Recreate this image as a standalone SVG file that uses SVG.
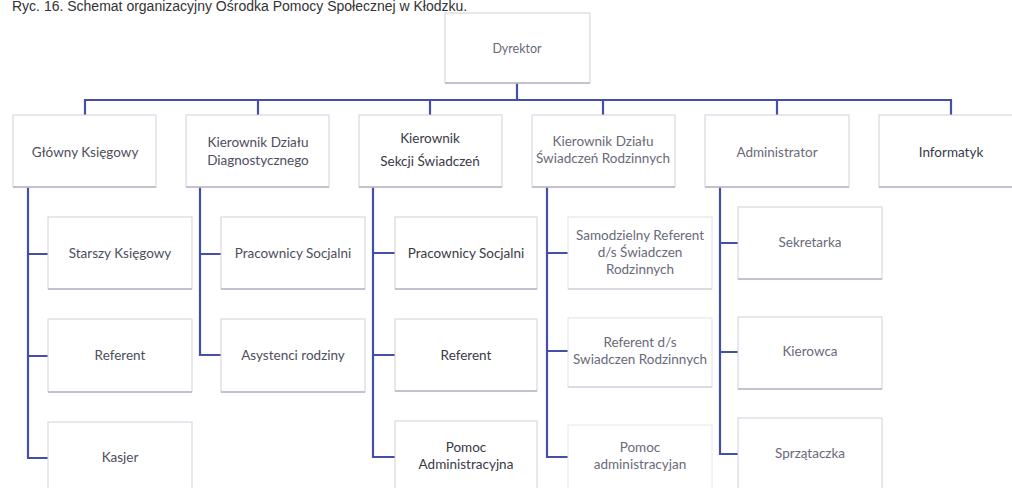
<svg xmlns="http://www.w3.org/2000/svg" width="1012" height="488" viewBox="0 0 1012 488">
<style>
.bx{fill:#fff;stroke:#d3d0dc;stroke-width:1}
.sh{stroke:#b9b5c9;stroke-width:1.5;fill:none}
.ln{stroke:#4450a8;stroke-width:2.2;fill:none}
text{font-family:Lato,"Open Sans","Liberation Sans",sans-serif;font-size:13.5px;fill:#4e4e5c;text-anchor:middle}
.lt{fill:#6a6a78}
.dk{fill:#3a3a46}
.ti{font-family:"Liberation Sans",Arial,sans-serif;font-size:14px;fill:#333;text-anchor:start}
</style>
<rect width="1012" height="488" fill="#fff"/>
<text class="ti" x="12" y="11">Ryc. 16. Schemat organizacyjny Ośrodka Pomocy Społecznej w Kłodzku.</text>
<g id="connectors">
<path class="ln" d="M517 83V100M85 115V100H951V115M258 100V115M430 100V115M603 100V115M777 100V115"/>
<path class="ln" d="M28 187V458H48M28 254H48M28 356H48"/>
<path class="ln" d="M200 187V355H221M200 254H221"/>
<path class="ln" d="M373 187V457H395M373 253H395M373 355H395"/>
<path class="ln" d="M547 187V457H568M547 253H568M547 351H568"/>
<path class="ln" d="M720 187V454H738M720 243H738M720 352H738"/>
</g>
<g id="n-dyrektor"><rect class="bx" x="445" y="13" width="145" height="70"/><path class="sh" d="M445 83H590"/><text x="517" y="53" class="lt" style="font-size:12.5px">Dyrektor</text></g>
<g id="n-glowny"><rect class="bx" x="13" y="115" width="143" height="72"/><path class="sh" d="M13 187H156"/><text x="85" y="157">Główny Księgowy</text></g>
<g id="n-diag"><rect class="bx" x="186" y="115" width="143" height="72"/><path class="sh" d="M186 187H329"/><text x="258" y="147">Kierownik Działu</text><text x="258" y="165">Diagnostycznego</text></g>
<g id="n-sekcja"><rect class="bx" x="359" y="115" width="143" height="72"/><path class="sh" d="M359 187H502"/><text x="430" y="143" class="dk">Kierownik</text><text x="430" y="166" class="dk">Sekcji Świadczeń</text></g>
<g id="n-rodz"><rect class="bx" x="532" y="115" width="143" height="72"/><path class="sh" d="M532 187H675"/><text x="603" y="146" class="lt">Kierownik Działu</text><text x="603" y="163" class="lt">Świadczeń Rodzinnych</text></g>
<g id="n-admin"><rect class="bx" x="705" y="115" width="144" height="72"/><path class="sh" d="M705 187H849"/><text x="777" y="157" class="lt">Administrator</text></g>
<g id="n-info"><rect class="bx" x="879" y="115" width="143" height="72"/><path class="sh" d="M879 187H1012"/><text x="951" y="157" class="dk">Informatyk</text></g>
<g id="n-starszy"><rect class="bx" x="48" y="217" width="144" height="72"/><path class="sh" d="M48 289H192"/><text x="120" y="258">Starszy Księgowy</text></g>
<g id="n-ref1"><rect class="bx" x="48" y="319" width="144" height="73"/><path class="sh" d="M48 392H192"/><text x="120" y="360">Referent</text></g>
<g id="n-kasjer"><rect class="bx" x="48" y="422" width="144" height="72"/><text x="120" y="462">Kasjer</text></g>
<g id="n-prac1"><rect class="bx" x="221" y="217" width="144" height="72"/><path class="sh" d="M221 289H365"/><text x="293" y="258">Pracownicy Socjalni</text></g>
<g id="n-asyst"><rect class="bx" x="221" y="319" width="144" height="73"/><path class="sh" d="M221 392H365"/><text x="293" y="360">Asystenci rodziny</text></g>
<g id="n-prac2"><rect class="bx" x="395" y="217" width="142" height="72"/><path class="sh" d="M395 289H537"/><text x="466" y="258" class="dk">Pracownicy Socjalni</text></g>
<g id="n-ref2"><rect class="bx" x="395" y="319" width="142" height="72"/><path class="sh" d="M395 391H537"/><text x="466" y="360" class="dk">Referent</text></g>
<g id="n-pomoc1"><rect class="bx" x="395" y="421" width="142" height="73"/><text x="466" y="452" class="dk">Pomoc</text><text x="466" y="469" class="dk">Administracyjna</text></g>
<g id="n-samref"><rect class="bx" x="568" y="217" width="144" height="72" style="stroke:#e2e0e8"/><path class="sh" d="M568 289H712" style="stroke:#d6d3df"/><text x="640" y="240" class="lt">Samodzielny Referent</text><text x="640" y="257" class="lt">d/s Świadczen</text><text x="640" y="274" class="lt">Rodzinnych</text></g>
<g id="n-refds"><rect class="bx" x="568" y="318" width="144" height="69" style="stroke:#e2e0e8"/><path class="sh" d="M568 387H712" style="stroke:#d6d3df"/><text x="640" y="347" class="lt">Referent d/s</text><text x="640" y="364" class="lt">Swiadczen Rodzinnych</text></g>
<g id="n-pomoc2"><rect class="bx" x="568" y="425" width="144" height="69" style="stroke:#e8e6ee"/><text x="640" y="452" class="lt">Pomoc</text><text x="640" y="469" class="lt">administracyjan</text></g>
<g id="n-sekr"><rect class="bx" x="738" y="207" width="144" height="72"/><path class="sh" d="M738 279H882"/><text x="810" y="247" class="lt">Sekretarka</text></g>
<g id="n-kier"><rect class="bx" x="738" y="317" width="144" height="72"/><path class="sh" d="M738 389H882"/><text x="810" y="356" class="lt">Kierowca</text></g>
<g id="n-sprz"><rect class="bx" x="738" y="418" width="144" height="76"/><text x="810" y="458" class="lt">Sprzątaczka</text></g>
</svg>
